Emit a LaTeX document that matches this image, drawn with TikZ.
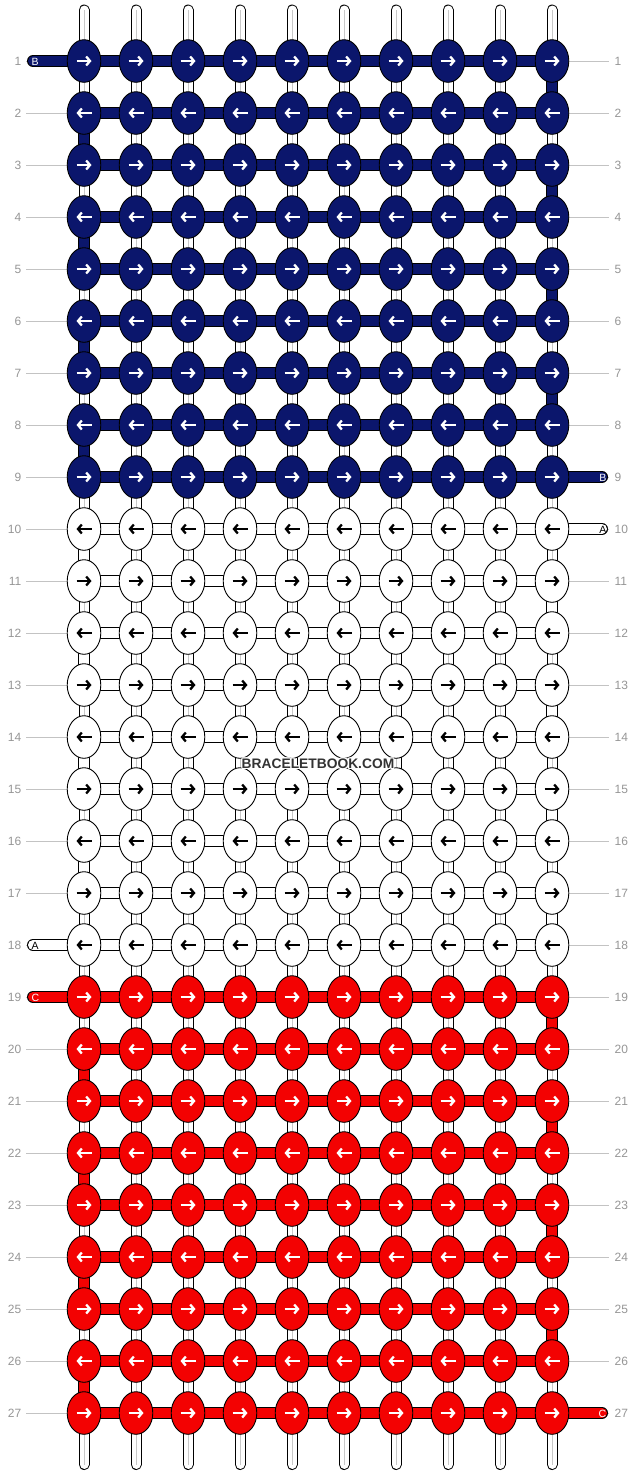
\documentclass[tikz,border=0pt]{standalone}
\usepackage{fontspec}
\setmainfont{Liberation Sans}
\usetikzlibrary{shapes.geometric,arrows.meta}
\definecolor{navy}{RGB}{11,22,108}
\definecolor{kred}{RGB}{243,2,2}
\definecolor{numgray}{RGB}{150,150,150}
\definecolor{linegray}{RGB}{195,195,195}
\definecolor{midgray}{RGB}{200,200,200}
\definecolor{wmgray}{RGB}{51,51,51}
\pgfdeclarelayer{paper}
\pgfdeclarelayer{lines}
\pgfdeclarelayer{vstr}
\pgfdeclarelayer{hstr}
\pgfdeclarelayer{fg}
\pgfsetlayers{paper,lines,vstr,hstr,main,fg}
\tikzset{
  knot/.style={ellipse, draw=black, line width=0.9pt, minimum width=33.6pt, minimum height=42.6pt, inner sep=0pt},
  arr/.style={line width=2.3pt, -{Straight Barb[length=3.8pt,width=9pt]}},
  numlabel/.style={text=numgray, font=\fontsize{12}{14}\selectfont, inner sep=0pt},
  strandlabel/.style={font=\fontsize{10.5}{12}\selectfont, inner sep=0pt},
  labline/.style={draw=linegray, line width=1pt},
  vout/.style={draw=black, line width=11pt, line cap=round},
  vin/.style={draw=white, line width=9pt, line cap=round},
  vmid/.style={draw=midgray, line width=0.9pt},
  hout/.style={draw=black, line width=12pt, line cap=round},
  hin/.style={line width=10pt, line cap=round},
  tout/.style={draw=black, line width=12pt},
  tin/.style={line width=10pt},
  wmtext/.style={font=\bfseries\fontsize{13.8}{16}\selectfont, inner sep=0pt},
}
\begin{document}
\begin{tikzpicture}[x=1pt,y=-1pt]
\useasboundingbox (0,0) rectangle (636,1476);
\begin{pgfonlayer}{paper}
\fill[white] (0,0) rectangle (636,1476);
\end{pgfonlayer}

% knots
\foreach \j in {1,...,27}{
  \ifnum\j<10 \def\kc{navy}\def\ac{white}\else
    \ifnum\j<19 \def\kc{white}\def\ac{black}\else \def\kc{kred}\def\ac{white}\fi\fi
  \foreach \i in {1,...,10}{
    \node[knot, fill=\kc] (k-\j-\i) at ({84+52*(\i-1)},{61+52*(\j-1)}) {};
    \ifodd\j
      \draw[arr,draw=\ac] ([xshift=-7.5pt]k-\j-\i.center) -- ([xshift=7.5pt]k-\j-\i.center);
    \else
      \draw[arr,draw=\ac] ([xshift=7.5pt]k-\j-\i.center) -- ([xshift=-7.5pt]k-\j-\i.center);
    \fi
  }
  % row numbers and guide lines
  \node[numlabel, anchor=east] (nl-\j) at (21.5,{61+52*(\j-1)}) {\j};
  \node[numlabel, anchor=west] (nr-\j) at (614.5,{61+52*(\j-1)}) {\j};
  \coordinate (gl-\j) at (26,{61+52*(\j-1)});
  \coordinate (gr-\j) at (609,{61+52*(\j-1)});
  \begin{pgfonlayer}{lines}
    \draw[labline] (gl-\j) -- (k-\j-1.center);
    \draw[labline] (k-\j-10.center) -- (gr-\j);
  \end{pgfonlayer}
}

% vertical background strands
\foreach \i in {1,...,10}{
  \coordinate (top-\i) at ({84+52*(\i-1)},10);
  \coordinate (bot-\i) at ({84+52*(\i-1)},1464.5);
  \begin{pgfonlayer}{vstr}
    \draw[vout] (top-\i) -- (bot-\i);
    \draw[vin] (top-\i) -- (bot-\i);
    \draw[vmid] (top-\i) -- (bot-\i);
  \end{pgfonlayer}
}

% strand end points
\coordinate (eL-1) at (33,61);
\coordinate (eR-9) at (602,477);
\coordinate (eR-10) at (602,529);
\coordinate (eL-18) at (33,945);
\coordinate (eL-19) at (33,997);
\coordinate (eR-27) at (602,1413);

% horizontal strands and turns
\begin{pgfonlayer}{hstr}
\foreach \j in {1,...,27}{
  \ifnum\j<10 \def\kc{navy}\else
    \ifnum\j<19 \def\kc{white}\else \def\kc{kred}\fi\fi
  \ifnum\j=1
    \draw[hout] (eL-1) -- (k-1-10.center);
    \draw[hin,draw=\kc] (eL-1) -- (k-1-10.center);
  \else\ifnum\j=18
    \draw[hout] (eL-18) -- (k-18-10.center);
    \draw[hin,draw=\kc] (eL-18) -- (k-18-10.center);
  \else\ifnum\j=19
    \draw[hout] (eL-19) -- (k-19-10.center);
    \draw[hin,draw=\kc] (eL-19) -- (k-19-10.center);
  \else\ifnum\j=9
    \draw[hout] (k-9-1.center) -- (eR-9);
    \draw[hin,draw=\kc] (k-9-1.center) -- (eR-9);
  \else\ifnum\j=10
    \draw[hout] (k-10-1.center) -- (eR-10);
    \draw[hin,draw=\kc] (k-10-1.center) -- (eR-10);
  \else\ifnum\j=27
    \draw[hout] (k-27-1.center) -- (eR-27);
    \draw[hin,draw=\kc] (k-27-1.center) -- (eR-27);
  \else
    \draw[hout] (k-\j-1.center) -- (k-\j-10.center);
    \draw[hin,draw=\kc] (k-\j-1.center) -- (k-\j-10.center);
  \fi\fi\fi\fi\fi\fi
}
\foreach \j in {1,...,8,10,11,...,17,19,20,...,26}{
  \ifnum\j<10 \def\kc{navy}\else
    \ifnum\j<19 \def\kc{white}\else \def\kc{kred}\fi\fi
  \pgfmathtruncatemacro{\jn}{\j+1}
  \ifodd\j \def\tc{10}\else \def\tc{1}\fi
  \draw[tout] (k-\j-\tc.center) -- (k-\jn-\tc.center);
  \draw[tin,draw=\kc] (k-\j-\tc.center) -- (k-\jn-\tc.center);
}
\end{pgfonlayer}

% strand letters
\node[strandlabel, text=white, anchor=west] (sB1) at (31.5,61.5) {B};
\node[strandlabel, text=white, anchor=east] (sB9) at (606.5,477.5) {B};
\node[strandlabel, text=black, anchor=east] (sA10) at (606.5,529.5) {A};
\node[strandlabel, text=black, anchor=west] (sA18) at (31.5,945.5) {A};
\node[strandlabel, text=white, anchor=west] (sC19) at (31.5,997.5) {C};
\node[strandlabel, text=white, anchor=east] (sC27) at (606.5,1413.5) {C};

% watermark
\begin{pgfonlayer}{fg}
\foreach \dx/\dy [count=\n] in {1.2/0,-1.2/0,0/1.2,0/-1.2,0.9/0.9,-0.9/0.9,0.9/-0.9,-0.9/-0.9}{
  \node[wmtext, text=white] (wmh-\n) at ({318+\dx},{764+\dy}) {BRACELETBOOK.COM};
}
\node[wmtext, text=wmgray] (wm) at (318,764) {BRACELETBOOK.COM};
\end{pgfonlayer}
\end{tikzpicture}
\end{document}
